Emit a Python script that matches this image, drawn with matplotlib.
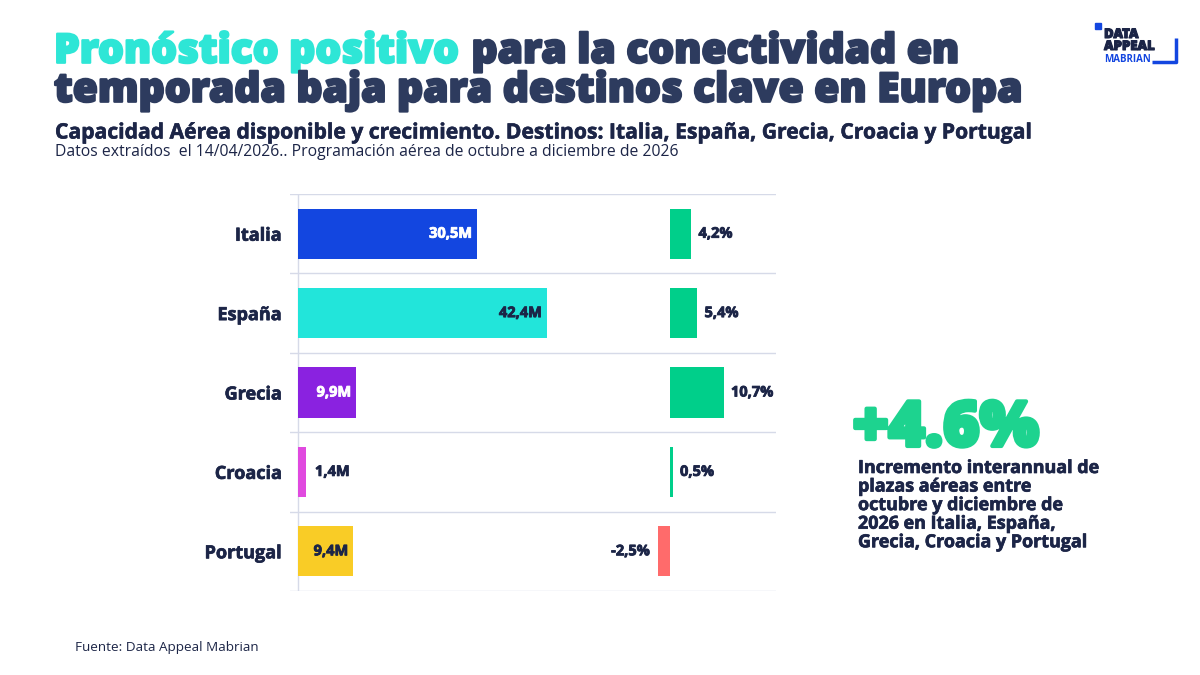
import matplotlib.pyplot as plt
import matplotlib.patheffects as pe
from matplotlib.patches import Rectangle

countries = ['Italia', 'España', 'Grecia', 'Croacia', 'Portugal']
capacity = [30.5, 42.4, 9.9, 1.4, 9.4]
capacity_labels = ['30,5M', '42,4M', '9,9M', '1,4M', '9,4M']
growth = [4.2, 5.4, 10.7, 0.5, -2.5]
growth_labels = ['4,2%', '5,4%', '10,7%', '0,5%', '-2,5%']

bar_colors = ['#1346e0', '#22e5da', '#8a22e0', '#e04adf', '#f9cc26']
label_colors = ['white', '#1c2547', 'white', '#1c2547', '#1c2547']
navy = '#1c2547'
title_navy = '#2d3b5e'
green = '#00cf8a'
red = '#ff6b6b'

plt.rcParams['font.family'] = ['Open Sans', 'DejaVu Sans']

W, H = 1200, 675
fig = plt.figure(figsize=(12, 6.75), dpi=100)


def px_axes(x0, y0, x1, y1):
    # pixel box (top-left origin) -> figure axes
    return fig.add_axes([x0 / W, 1 - y1 / H, (x1 - x0) / W, (y1 - y0) / H])


def fat(color, w=1.2):
    return [pe.withStroke(linewidth=w, foreground=color)]


# background grid box
grid_ax = px_axes(290, 194, 776, 591)
grid_ax.set_xlim(0, 1)
grid_ax.set_ylim(len(countries), 0)
for i in range(len(countries) + 1):
    grid_ax.axhline(i, color='#d6dae8', lw=1)
grid_ax.plot([8 / 486, 8 / 486], [0, len(countries)], color='#d6dae8', lw=1)
grid_ax.axis('off')

# capacity bars
ax1 = px_axes(298, 194, 640, 591)
ax1.set_xlim(0, 342 / 5.87)
ax1.set_ylim(len(countries) - 0.5, -0.5)
ax1.patch.set_alpha(0)
ypos = list(range(len(countries)))
ax1.barh(ypos, capacity, height=0.63, color=bar_colors)
for y, v, lab, c in zip(ypos, capacity, capacity_labels, label_colors):
    if v < 3:
        ax1.text(v + 1.5, y, lab, ha='left', va='center', color=c,
                 fontsize=10.5, fontweight='bold', path_effects=fat(c, 0.6))
    else:
        ax1.text(v - 0.8, y, lab, ha='right', va='center', color=c,
                 fontsize=10.5, fontweight='bold', path_effects=fat(c, 0.6))
ax1.set_yticks(ypos)
ax1.set_yticklabels(countries, fontsize=13, fontweight='bold', color=navy)
for t in ax1.get_yticklabels():
    t.set_path_effects(fat(navy, 0.5))
ax1.tick_params(axis='y', length=0, pad=12)
ax1.set_xticks([])
for s in ax1.spines.values():
    s.set_visible(False)

# growth bars
ax2 = px_axes(600, 194, 776, 591)
ax2.set_xlim(-70 / 5.0, 176 / 5.0 - 70 / 5.0)
ax2.set_ylim(len(countries) - 0.5, -0.5)
ax2.patch.set_alpha(0)
gcolors = [green if g >= 0 else red for g in growth]
ax2.barh(ypos, growth, height=0.63, color=gcolors)
ax2.barh(3, 0.06, height=0.63, color='#1a9e7a')
for y, g, lab in zip(ypos, growth, growth_labels):
    if g >= 0:
        ax2.text(max(g, 0.5) + 1.5, y, lab, ha='left', va='center', color=navy,
                 fontsize=10.5, fontweight='bold', path_effects=fat(navy, 0.6))
    else:
        ax2.text(g - 1.5, y, lab, ha='right', va='center', color=navy,
                 fontsize=10.5, fontweight='bold', path_effects=fat(navy, 0.6))
ax2.axis('off')

# titles
renderer = fig.canvas.get_renderer()
t1 = fig.text(54 / W, 1 - 52 / H, 'Pronóstico positivo', color='#2ee6d6',
              fontsize=29.3, fontweight='heavy', va='center',
              path_effects=fat('#2ee6d6', 1.6))
x_end = t1.get_window_extent(renderer).x1
fig.text((x_end + 12) / W, 1 - 52 / H, 'para la conectividad en', color=title_navy,
         fontsize=29.3, fontweight='heavy', va='center',
         path_effects=fat(title_navy, 1.6))
fig.text(54 / W, 1 - 91 / H, 'temporada baja para destinos clave en Europa',
         color=title_navy, fontsize=29.3, fontweight='heavy', va='center',
         path_effects=fat(title_navy, 1.6))
fig.text(55 / W, 1 - 133 / H,
         'Capacidad Aérea disponible y crecimiento. Destinos: Italia, España, Grecia, Croacia y Portugal',
         color=navy, fontsize=15.2, fontweight='bold', va='center',
         path_effects=fat(navy, 0.4))
fig.text(55 / W, 1 - 152 / H,
         'Datos extraídos  el 14/04/2026.. Programación aérea de octubre a diciembre de 2026',
         color=navy, fontsize=11.3, va='center')

# highlight
fig.text(853 / W, 1 - 429 / H, '+4.6%', color='#1dd38f', fontsize=45,
         fontweight='heavy', va='center', path_effects=fat('#1dd38f', 3))
fig.text(858 / W, 1 - 459 / H,
         'Incremento interannual de\nplazas aéreas entre\noctubre y diciembre de\n2026 en Italia, España,\nGrecia, Croacia y Portugal',
         color=navy, fontsize=12.9, fontweight='bold', va='top', linespacing=1.04,
         path_effects=fat(navy, 0.5))

fig.text(75 / W, 1 - 647 / H, 'Fuente: Data Appeal Mabrian', color=navy,
         fontsize=9.7, va='center')

# logo
logo = px_axes(1090, 20, 1180, 70)
logo.set_xlim(0, 90)
logo.set_ylim(50, 0)
logo.axis('off')
logo.add_patch(Rectangle((5, 3), 6, 6, color='#1346e0'))
logo.text(14, 15, 'DATA', color=navy, fontsize=9.5, fontweight='heavy', va='center',
          path_effects=fat(navy, 0.8))
logo.text(14, 27, 'APPEAL', color=navy, fontsize=9.5, fontweight='heavy', va='center',
          path_effects=fat(navy, 0.8))
logo.text(14, 39, 'MABRIAN', color='#1346e0', fontsize=7, fontweight='bold', va='center')
logo.plot([62, 86, 86], [42, 42, 18], color='#1346e0', lw=2.5, solid_capstyle='butt')

fig.savefig('out.png', dpi=100)
